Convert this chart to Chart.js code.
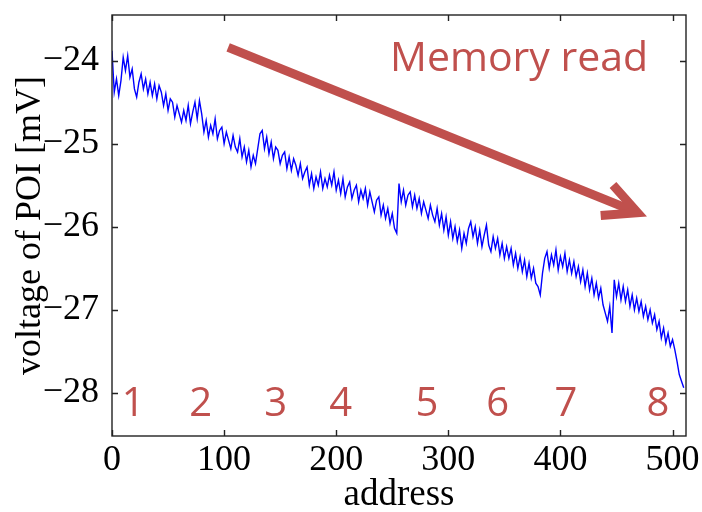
<!DOCTYPE html>
<html>
<head>
<meta charset="utf-8">
<script src="https://cdn.jsdelivr.net/npm/chart.js@4/dist/chart.umd.min.js"></script>
<style>
  html, body { margin: 0; padding: 0; background: #fff; }
  #wrap { width: 702px; height: 512px; }
</style>
</head>
<body>
<div id="wrap"><canvas id="poi"></canvas></div>
<script>
// one sample every 2 addresses, 0..510
const addrStep = 2;
const voltage = [
  -23.88, -24.38, -24.22, -24.42, -24.24, -23.96, -24.12, -23.94, -24.20, -24.10, -24.34, -24.44, -24.26, -24.16, -24.34, -24.22,
  -24.40, -24.26, -24.42, -24.28, -24.46, -24.30, -24.38, -24.54, -24.40, -24.60, -24.46, -24.50, -24.68, -24.54, -24.64, -24.74,
  -24.60, -24.72, -24.54, -24.76, -24.62, -24.50, -24.70, -24.48, -24.64, -24.86, -24.72, -24.92, -24.78, -24.88, -24.70, -24.94,
  -24.84, -24.80, -25.00, -24.86, -24.96, -25.06, -24.90, -25.04, -25.10, -24.94, -25.16, -25.04, -25.22, -25.08, -25.28, -25.14,
  -25.24, -25.06, -24.88, -24.84, -25.06, -24.92, -25.12, -24.98, -25.18, -25.04, -25.08, -25.24, -25.14, -25.10, -25.30, -25.16,
  -25.32, -25.18, -25.26, -25.38, -25.24, -25.42, -25.34, -25.28, -25.50, -25.36, -25.54, -25.40, -25.50, -25.34, -25.54, -25.42,
  -25.52, -25.38, -25.50, -25.34, -25.56, -25.44, -25.60, -25.42, -25.64, -25.52, -25.46, -25.66, -25.56, -25.50, -25.70, -25.56,
  -25.66, -25.54, -25.74, -25.58, -25.70, -25.82, -25.68, -25.64, -25.86, -25.74, -25.90, -25.78, -25.96, -25.84, -26.02, -26.08,
  -25.48, -25.70, -25.56, -25.74, -25.62, -25.58, -25.76, -25.62, -25.78, -25.66, -25.84, -25.70, -25.80, -25.90, -25.74, -25.86,
  -25.94, -25.78, -25.98, -25.84, -26.04, -25.88, -26.10, -25.94, -26.14, -26.00, -26.18, -26.04, -26.26, -26.08, -26.20, -26.02,
  -25.94, -26.12, -26.00, -26.20, -26.04, -26.24, -26.10, -25.98, -26.22, -26.30, -26.12, -26.26, -26.14, -26.34, -26.20, -26.38,
  -26.24, -26.38, -26.26, -26.46, -26.32, -26.50, -26.36, -26.54, -26.40, -26.60, -26.44, -26.62, -26.50, -26.68, -26.72, -26.82,
  -26.56, -26.38, -26.30, -26.50, -26.34, -26.46, -26.28, -26.52, -26.36, -26.48, -26.32, -26.54, -26.40, -26.56, -26.42, -26.60,
  -26.48, -26.66, -26.52, -26.72, -26.56, -26.76, -26.62, -26.82, -26.68, -26.86, -26.74, -26.94, -27.04, -27.14, -26.96, -27.28,
  -26.64, -26.84, -26.68, -26.88, -26.72, -26.90, -26.76, -26.96, -26.82, -27.00, -26.86, -27.02, -26.90, -27.08, -26.96, -27.12,
  -27.00, -27.16, -27.06, -27.24, -27.14, -27.34, -27.22, -27.40, -27.28, -27.44, -27.36, -27.48, -27.62, -27.78, -27.86, -27.94
];

// block numbers along the bottom, placed at these addresses
const blockLabels = ['1', '2', '3', '4', '5', '6', '7', '8'];
const blockAddr = [19, 79, 146, 204, 281, 344, 405, 487];
const blockLevel = -28.28;

// "Memory read" caption and the arrow (address, mV)
const caption = 'Memory read';
const captionAt = [248, -24.13];
const arrowFrom = [103.6, -23.84];
const arrowTo = [468.8, -25.83];

const xTicks = [0, 100, 200, 300, 400, 500];
const yTicks = [-28, -27, -26, -25, -24];

const red = '#C0504D';
const serif = "'Liberation Serif', 'Times New Roman', serif";
const sans = "'Open Sans', Lato, sans-serif";

const points = voltage.map((v, i) => ({ x: i * addrStep, y: v }));

// box, inward ticks, arrow and captions
const decorations = {
  id: 'decorations',
  afterDraw(chart) {
    const ctx = chart.ctx;
    const a = chart.chartArea;
    const xs = chart.scales.x, ys = chart.scales.y;

    ctx.save();
    ctx.strokeStyle = '#222';
    ctx.lineWidth = 1.4;
    ctx.strokeRect(a.left, a.top, a.right - a.left, a.bottom - a.top);
    ctx.beginPath();
    xTicks.forEach(t => {
      const px = Math.round(xs.getPixelForValue(t)) + 0.5;
      ctx.moveTo(px, a.bottom); ctx.lineTo(px, a.bottom - 6);
      ctx.moveTo(px, a.top); ctx.lineTo(px, a.top + 6);
    });
    yTicks.forEach(t => {
      const py = Math.round(ys.getPixelForValue(t)) + 0.5;
      ctx.moveTo(a.left, py); ctx.lineTo(a.left + 6, py);
      ctx.moveTo(a.right, py); ctx.lineTo(a.right - 6, py);
    });
    ctx.stroke();

    // arrow
    const x0 = xs.getPixelForValue(arrowFrom[0]), y0 = ys.getPixelForValue(arrowFrom[1]);
    const x1 = xs.getPixelForValue(arrowTo[0]), y1 = ys.getPixelForValue(arrowTo[1]);
    const ang = Math.atan2(y1 - y0, x1 - x0);
    const wing = 37, spread = 0.46;
    ctx.strokeStyle = red;
    ctx.lineWidth = 9;
    ctx.lineCap = 'butt';
    ctx.lineJoin = 'miter';
    ctx.beginPath();
    ctx.moveTo(x0, y0);
    ctx.lineTo(x1 - 4 * Math.cos(ang), y1 - 4 * Math.sin(ang));
    ctx.stroke();
    ctx.beginPath();
    ctx.moveTo(x1 - wing * Math.cos(ang - spread), y1 - wing * Math.sin(ang - spread));
    ctx.lineTo(x1, y1);
    ctx.lineTo(x1 - wing * Math.cos(ang + spread), y1 - wing * Math.sin(ang + spread));
    ctx.stroke();

    // captions
    ctx.fillStyle = red;
    ctx.textBaseline = 'alphabetic';
    ctx.textAlign = 'left';
    ctx.font = '41px ' + sans;
    ctx.fillText(caption, xs.getPixelForValue(captionAt[0]), ys.getPixelForValue(captionAt[1]));
    ctx.textAlign = 'center';
    ctx.font = '40px ' + sans;
    blockLabels.forEach((s, i) => {
      ctx.fillText(s, xs.getPixelForValue(blockAddr[i]), ys.getPixelForValue(blockLevel));
    });
    ctx.restore();
  }
};

new Chart(document.getElementById('poi').getContext('2d'), {
  type: 'line',
  data: {
    datasets: [{
      data: points,
      borderColor: '#0000FF',
      borderWidth: 1.4,
      pointRadius: 0,
      tension: 0,
      fill: false
    }]
  },
  options: {
    responsive: true,
    maintainAspectRatio: false,
    animation: false,
    layout: { padding: { top: 15, right: 16, left: 0, bottom: 0 } },
    plugins: { legend: { display: false }, tooltip: { enabled: false } },
    scales: {
      x: {
        type: 'linear',
        min: 0,
        max: 512,
        grid: { display: false, drawTicks: false },
        border: { display: false },
        afterFit: s => { s.height = 76; s.paddingLeft = 0; s.paddingRight = 0; },
        afterBuildTicks: s => { s.ticks = xTicks.map(v => ({ value: v })); },
        ticks: { color: '#000', padding: 3, maxRotation: 0, font: { family: serif, size: 36 } },
        title: {
          display: true, text: 'address', color: '#000',
          font: { family: serif, size: 37, lineHeight: 1 }, padding: { top: 0, bottom: -2 }
        }
      },
      y: {
        min: -28.52,
        max: -23.45,
        grid: { display: false, drawTicks: false },
        border: { display: false },
        afterFit: s => { s.width = 112; s.paddingTop = 0; s.paddingBottom = 0; },
        afterBuildTicks: s => { s.ticks = yTicks.map(v => ({ value: v })); },
        ticks: {
          color: '#000', padding: 13, font: { family: serif, size: 36 },
          callback: v => String(v).replace('-', '\u2212')
        },
        title: {
          display: true, text: 'voltage of POI [mV]', color: '#000',
          font: { family: serif, size: 36, lineHeight: 1 }, padding: { top: 13, bottom: 0 }
        }
      }
    }
  },
  plugins: [decorations]
});
</script>
</body>
</html>
